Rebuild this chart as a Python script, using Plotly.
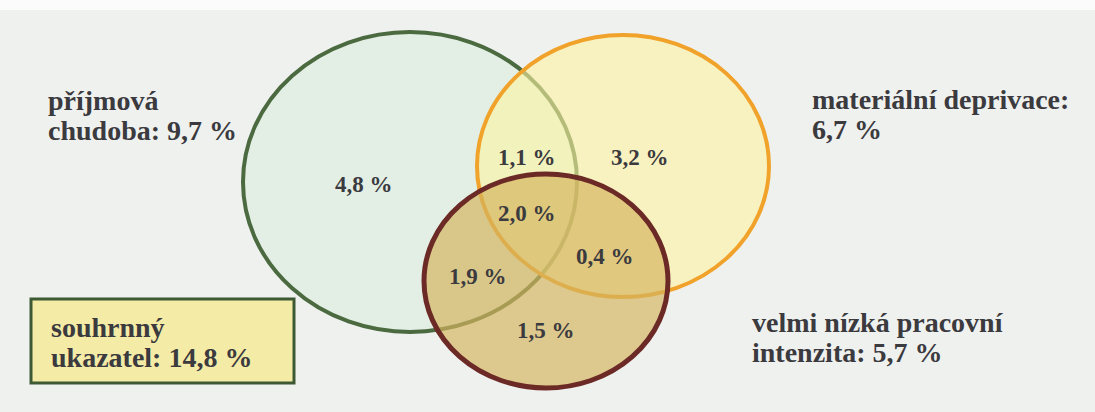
import plotly.graph_objects as go

# ---------------- data ----------------
set_names = ["příjmová chudoba", "materiální deprivace", "velmi nízká pracovní intenzita"]
set_totals = [9.7, 6.7, 5.7]
region_names = ["jen příjmová chudoba", "jen materiální deprivace", "jen nízká prac. intenzita",
                "chudoba + deprivace", "chudoba + intenzita", "deprivace + intenzita", "všechny tři"]
region_values = [4.8, 3.2, 1.5, 1.1, 1.9, 0.4, 2.0]
overall_name = "souhrnný ukazatel"
overall_value = 14.8

# ---------------- layout (pixel space) ----------------
W, H = 1095, 412
# ellipses: (cx, cy, rx, ry)
ellipses = [(410, 182, 167, 150), (623, 166, 146, 131), (546, 281, 122, 107)]
ell_fill = ["rgba(226,238,228,0.95)", "rgba(252,244,160,0.6)", "rgba(212,180,95,0.68)"]
ell_line = ["#4b6a40", "#f0a22a", "#6c2a26"]
ell_width = [4, 4, 5]
region_pos = [(364, 184), (640, 157), (546, 330), (527, 157), (478, 276), (605, 256), (527, 213)]

def fmt(v):
    return f"{v:.1f}".replace(".", ",") + " %"

TXT = "#3b3a3e"
FONT = "Liberation Serif"

fig = go.Figure()
fig.add_trace(go.Scatter(x=[0, W], y=[0, H], mode="markers", marker=dict(opacity=0),
                         hoverinfo="skip", showlegend=False))

shapes = []
# top white scan edge
shapes.append(dict(type="rect", xref="x", yref="y", x0=0, x1=W, y0=0, y1=10,
                   fillcolor="#fbfbfb", line=dict(width=0), layer="below"))
for (cx, cy, rx, ry), fc, lc, lw in zip(ellipses, ell_fill, ell_line, ell_width):
    shapes.append(dict(type="circle", xref="x", yref="y", x0=cx - rx, x1=cx + rx,
                       y0=cy - ry, y1=cy + ry, fillcolor=fc, line=dict(color=lc, width=lw),
                       layer="above"))
# summary box
shapes.append(dict(type="rect", xref="x", yref="y", x0=31, x1=294, y0=299, y1=383,
                   fillcolor="#f4eba6", line=dict(color="#3e5a34", width=3), layer="above"))

ann = []
def add_text(x, y, text, size, xanchor="left"):
    ann.append(dict(x=x, y=y, xref="x", yref="y", text=text, showarrow=False,
                    xanchor=xanchor, yanchor="middle",
                    font=dict(family=FONT, size=size, color=TXT, weight="bold")))

# region values
for v, (x, y) in zip(region_values, region_pos):
    add_text(x, y, fmt(v), 23, xanchor="center")

BIG = 28
off = 8  # baseline -> middle offset
# set labels (two lines each)
add_text(46, 108 - off, "příjmová", BIG)
add_text(46, 138 - off, "chudoba: " + fmt(set_totals[0]), BIG)
add_text(810, 107 - off, "materiální deprivace:", BIG)
add_text(810, 137 - off, fmt(set_totals[1]), BIG)
add_text(750, 330 - off, "velmi nízká pracovní", BIG)
add_text(750, 360 - off, "intenzita: " + fmt(set_totals[2]), BIG)
add_text(49, 335 - off, "souhrnný", BIG)
add_text(49, 365 - off, "ukazatel: " + fmt(overall_value), BIG)

fig.update_layout(
    width=W, height=H, margin=dict(l=0, r=0, t=0, b=0),
    paper_bgcolor="#eff1ef", plot_bgcolor="#eff1ef",
    xaxis=dict(range=[0, W], visible=False, fixedrange=True),
    yaxis=dict(range=[H, 0], visible=False, fixedrange=True),
    shapes=shapes, annotations=ann, showlegend=False,
)
fig.write_html("out.html", config={"displayModeBar": False},
               post_script="document.body.style.margin='0px';document.body.style.overflow='hidden';")
